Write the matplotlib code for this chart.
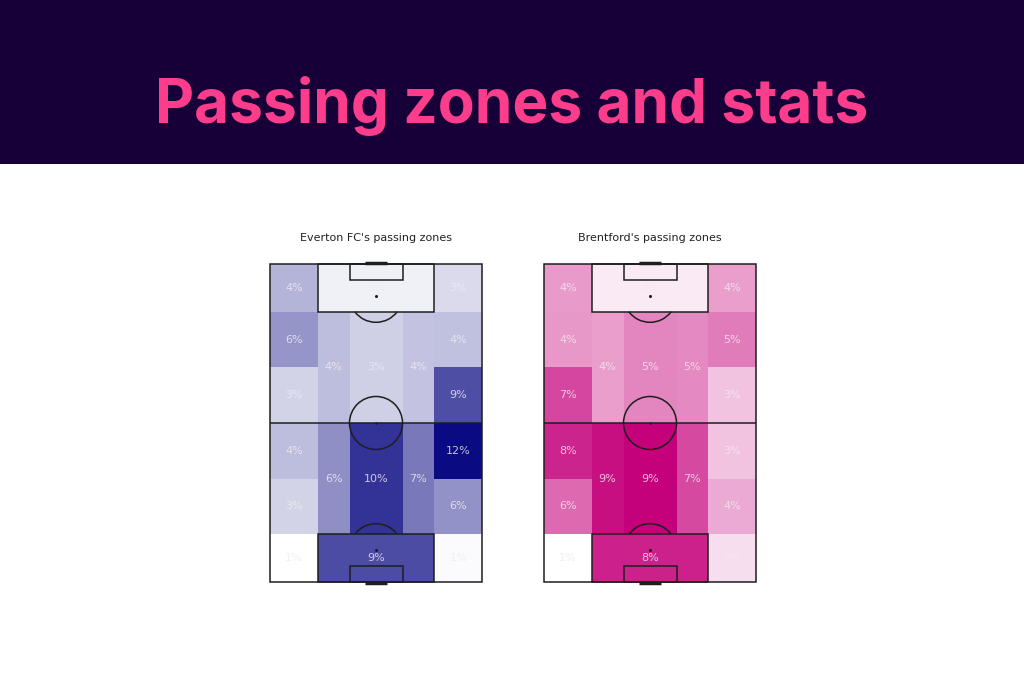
import numpy as np
import matplotlib
matplotlib.use("Agg")
import matplotlib.pyplot as plt
from matplotlib.patches import Rectangle, Circle, Arc
from matplotlib.colors import LinearSegmentedColormap, Normalize

# Share of passes per positional zone (%), zone order given in ZONES below
everton_pct = [4.3, 1.6, 2.6,
               5.7, 3.8,
               3.9, 3.1, 3.6,
               2.9, 8.9,
               3.9, 12.0,
               6.0, 10.1, 7.0,
               2.9, 5.8,
               0.9, 9.0, 1.1]
brentford_pct = [4.2, 1.6, 4.1,
                 4.3, 5.2,
                 4.1, 4.9, 4.8,
                 7.0, 2.9,
                 8.1, 2.9,
                 8.8, 9.3, 6.9,
                 5.8, 3.7,
                 0.9, 8.2, 2.0]
team_titles = ["Everton FC's passing zones", "Brentford's passing zones"]
team_colors = ["#0a0a82", "#c4007a"]

# positional zones on a vertical 80 x 120 pitch: (left, right, bottom, top)
ZONES = [(0, 18, 102, 120), (18, 62, 102, 120), (62, 80, 102, 120),
         (0, 18, 81, 102), (62, 80, 81, 102),
         (18, 30, 60, 102), (30, 50, 60, 102), (50, 62, 60, 102),
         (0, 18, 60, 81), (62, 80, 60, 81),
         (0, 18, 39, 60), (62, 80, 39, 60),
         (18, 30, 18, 60), (30, 50, 18, 60), (50, 62, 18, 60),
         (0, 18, 18, 39), (62, 80, 18, 39),
         (0, 18, 0, 18), (18, 62, 0, 18), (62, 80, 0, 18)]

LINE = "#1e1e1e"


def draw_pitch(ax):
    lw = 1.1
    kw = dict(ec=LINE, lw=lw, zorder=3, clip_on=False, fill=False)
    ax.add_patch(Rectangle((0, 0), 80, 120, **kw))
    ax.plot([0, 80], [60, 60], color=LINE, lw=lw, zorder=3)
    ax.add_patch(Circle((40, 60), 10, **kw))
    ax.plot(40, 60, marker="o", ms=0.8, color=LINE, zorder=3)
    for goal_y, sign in [(0, 1), (120, -1)]:
        ax.add_patch(Rectangle((18, goal_y), 44, sign * 18, **kw))
        ax.add_patch(Rectangle((30, goal_y), 20, sign * 6, **kw))
        spot = goal_y + sign * 12
        ax.plot(40, spot, marker="o", ms=1.2, color=LINE, zorder=3)
        if sign == 1:
            ax.add_patch(Arc((40, spot), 20, 20, theta1=37, theta2=143, ec=LINE, lw=lw, zorder=3))
        else:
            ax.add_patch(Arc((40, spot), 20, 20, theta1=217, theta2=323, ec=LINE, lw=lw, zorder=3))
        ax.plot([36, 44], [goal_y - sign * 0.4, goal_y - sign * 0.4], color=LINE, lw=2.5,
                solid_capstyle="butt", zorder=3, clip_on=False)


def draw_team(ax, values, color, title):
    cmap = LinearSegmentedColormap.from_list("team", ["#ffffff", color])
    norm = Normalize(vmin=min(values), vmax=max(values))
    for (x0, x1, y0, y1), v in zip(ZONES, values):
        ax.add_patch(Rectangle((x0, y0), x1 - x0, y1 - y0, facecolor=cmap(norm(v)),
                               edgecolor="none", zorder=1))
        ax.text((x0 + x1) / 2, (y0 + y1) / 2, f"{round(v)}%", ha="center", va="center",
                fontsize=8, color="#f2e9ef", alpha=0.82, zorder=4)
    draw_pitch(ax)
    ax.set_xlim(0, 80)
    ax.set_ylim(0, 120)
    ax.set_axis_off()
    ax.text(40, 128, title, ha="center", va="bottom", fontsize=8, color="#222222")


fig = plt.figure(figsize=(10.24, 6.83), dpi=100)
fig.patch.set_facecolor("white")

# header band
fig.add_artist(Rectangle((0, 1 - 164 / 683), 1, 164 / 683, transform=fig.transFigure,
                         facecolor="#170038", edgecolor="none", zorder=0))
fig.text(0.5, 1 - 123 / 683, "Passing zones and stats", ha="center", va="baseline",
         fontsize=43.5, fontweight="bold", family=["Inter", "DejaVu Sans"], color="#fb3d8c")

lefts = [270, 544]
for left, vals, col, ttl in zip(lefts, [everton_pct, brentford_pct], team_colors, team_titles):
    ax = fig.add_axes([left / 1024, (683 - 582) / 683, 212 / 1024, 318 / 683])
    draw_team(ax, vals, col, ttl)

fig.savefig("out.png", dpi=100)
